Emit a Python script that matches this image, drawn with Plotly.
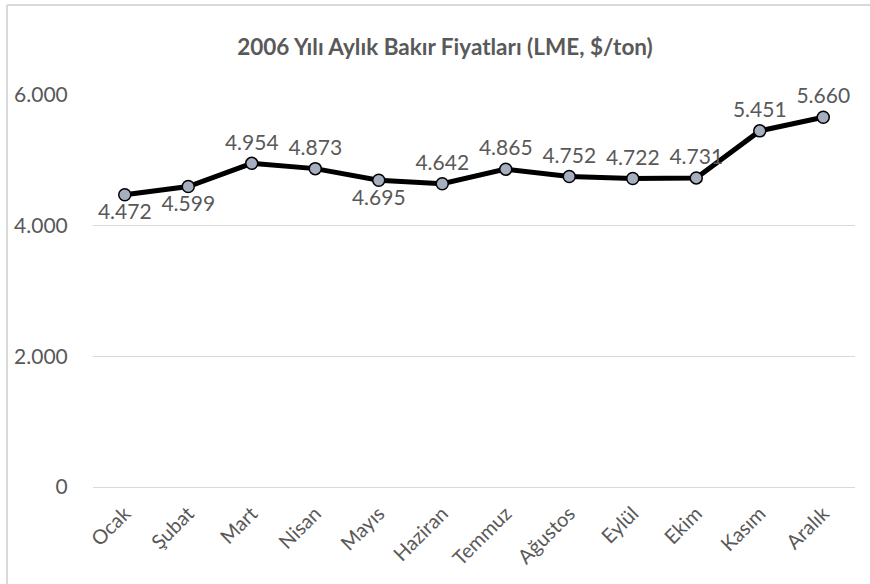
import plotly.graph_objects as go

months = ["Ocak", "Şubat", "Mart", "Nisan", "Mayıs", "Haziran",
          "Temmuz", "Ağustos", "Eylül", "Ekim", "Kasım", "Aralık"]
prices = [4472, 4599, 4954, 4873, 4695, 4642, 4865, 4752, 4722, 4731, 5451, 5660]
label_pos = ["bottom center", "bottom center", "top center", "top center",
             "bottom center", "top center", "top center", "top center",
             "top center", "top center", "top center", "top center"]
y_ticks = [0, 2000, 4000, 6000]
title_text = "2006 Yılı Aylık Bakır Fiyatları (LME, $/ton)"

FONT = "Lato"
GREY = "#595959"

fig = go.Figure()
fig.add_trace(go.Scatter(
    x=months, y=prices,
    mode="lines+markers+text",
    line=dict(color="black", width=5),
    marker=dict(size=12, color="#A6AFBF", line=dict(color="black", width=1.5)),
    text=prices,
    texttemplate="%{y:,d}",
    textposition=label_pos,
    textfont=dict(family=FONT, size=21, color=GREY),
    cliponaxis=False,
    hoverinfo="x+y",
))

W, H = 870, 584
L, R, T, B = 93, 15, 95, 97
pw, ph = W - L - R, H - T - B

def px_x(x):
    return (x - L) / pw

def px_y(y):
    return (H - B - y) / ph

fig.update_layout(
    width=W, height=H,
    margin=dict(l=L, r=R, t=T, b=B),
    paper_bgcolor="white", plot_bgcolor="white",
    separators=",.",
    showlegend=False,
    title=dict(text=title_text, x=445 / W, xanchor="center",
               y=1 - 47 / H, yanchor="middle",
               font=dict(family=FONT, size=22.5, color=GREY, weight="bold")),
    xaxis=dict(
        tickangle=-45,
        tickfont=dict(family=FONT, size=20, color=GREY),
        showgrid=False, showline=False, zeroline=False,
        ticks="outside", ticklen=6, tickcolor="rgba(0,0,0,0)",
        range=[-0.5, len(months) - 0.5],
    ),
    yaxis=dict(
        range=[0, 6000],
        tickvals=y_ticks,
        tickformat=",d",
        tickfont=dict(family=FONT, size=21, color=GREY),
        showgrid=True, gridcolor="#D9D9D9", gridwidth=1.3,
        zeroline=True, zerolinecolor="#D9D9D9", zerolinewidth=1.3,
        showline=False,
        ticks="outside", ticklen=20, tickcolor="rgba(0,0,0,0)",
    ),
    shapes=[
        dict(type="line", xref="paper", yref="paper",
             x0=px_x(7), x1=px_x(7), y0=px_y(5), y1=px_y(600),
             line=dict(color="#D9D9D9", width=2)),
        dict(type="line", xref="paper", yref="paper",
             x0=px_x(7), x1=px_x(880), y0=px_y(5), y1=px_y(5),
             line=dict(color="#D9D9D9", width=2)),
    ],
)

fig.write_html("out.html",
               config={"displayModeBar": False},
               post_script="document.body.style.margin='0';document.body.style.overflow='hidden';")
